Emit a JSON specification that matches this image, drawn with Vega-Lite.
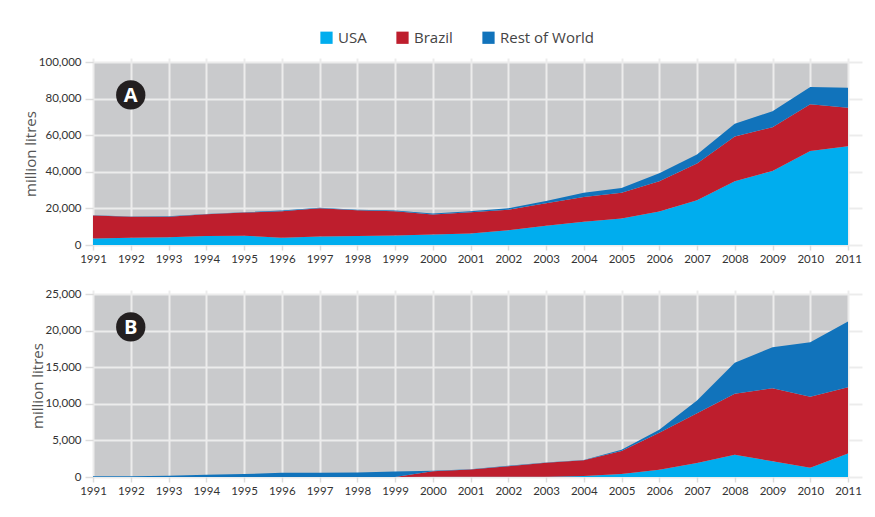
{
  "$schema": "https://vega.github.io/schema/vega-lite/v6.json",
  "padding": {"left": 23, "top": 30, "right": 5, "bottom": 5},
  "datasets": {
    "a": [
      {"year": 1991, "USA": 3600, "Brazil": 12500, "Rest of World": 200},
      {"year": 1992, "USA": 4000, "Brazil": 11400, "Rest of World": 200},
      {"year": 1993, "USA": 4300, "Brazil": 11200, "Rest of World": 200},
      {"year": 1994, "USA": 4900, "Brazil": 11900, "Rest of World": 200},
      {"year": 1995, "USA": 5100, "Brazil": 12600, "Rest of World": 200},
      {"year": 1996, "USA": 4000, "Brazil": 14400, "Rest of World": 400},
      {"year": 1997, "USA": 4700, "Brazil": 15400, "Rest of World": 200},
      {"year": 1998, "USA": 4900, "Brazil": 14100, "Rest of World": 300},
      {"year": 1999, "USA": 5200, "Brazil": 13200, "Rest of World": 400},
      {"year": 2000, "USA": 5800, "Brazil": 10800, "Rest of World": 600},
      {"year": 2001, "USA": 6300, "Brazil": 11600, "Rest of World": 500},
      {"year": 2002, "USA": 8000, "Brazil": 11300, "Rest of World": 800},
      {"year": 2003, "USA": 10500, "Brazil": 12300, "Rest of World": 1300},
      {"year": 2004, "USA": 12700, "Brazil": 13500, "Rest of World": 2400},
      {"year": 2005, "USA": 14500, "Brazil": 14100, "Rest of World": 2500},
      {"year": 2006, "USA": 18300, "Brazil": 16600, "Rest of World": 4300},
      {"year": 2007, "USA": 24400, "Brazil": 20100, "Rest of World": 4900},
      {"year": 2008, "USA": 34900, "Brazil": 24400, "Rest of World": 6900},
      {"year": 2009, "USA": 40500, "Brazil": 23900, "Rest of World": 8700},
      {"year": 2010, "USA": 51400, "Brazil": 25500, "Rest of World": 9400},
      {"year": 2011, "USA": 53900, "Brazil": 21100, "Rest of World": 10900}
    ],
    "b": [
      {"year": 1991, "USA": 0, "Brazil": 0, "Rest of World": 90},
      {"year": 1992, "USA": 0, "Brazil": 0, "Rest of World": 90},
      {"year": 1993, "USA": 0, "Brazil": 0, "Rest of World": 180},
      {"year": 1994, "USA": 0, "Brazil": 0, "Rest of World": 310},
      {"year": 1995, "USA": 0, "Brazil": 0, "Rest of World": 400},
      {"year": 1996, "USA": 0, "Brazil": 0, "Rest of World": 580},
      {"year": 1997, "USA": 0, "Brazil": 0, "Rest of World": 580},
      {"year": 1998, "USA": 0, "Brazil": 0, "Rest of World": 630},
      {"year": 1999, "USA": 0, "Brazil": 0, "Rest of World": 760},
      {"year": 2000, "USA": 20, "Brazil": 780, "Rest of World": 50},
      {"year": 2001, "USA": 20, "Brazil": 1010, "Rest of World": 20},
      {"year": 2002, "USA": 30, "Brazil": 1450, "Rest of World": 50},
      {"year": 2003, "USA": 50, "Brazil": 1880, "Rest of World": 40},
      {"year": 2004, "USA": 120, "Brazil": 2170, "Rest of World": 40},
      {"year": 2005, "USA": 400, "Brazil": 3150, "Rest of World": 180},
      {"year": 2006, "USA": 1000, "Brazil": 5060, "Rest of World": 400},
      {"year": 2007, "USA": 1900, "Brazil": 6810, "Rest of World": 1750},
      {"year": 2008, "USA": 3050, "Brazil": 8310, "Rest of World": 4260},
      {"year": 2009, "USA": 2150, "Brazil": 9970, "Rest of World": 5610},
      {"year": 2010, "USA": 1250, "Brazil": 9700, "Rest of World": 7450},
      {"year": 2011, "USA": 3200, "Brazil": 9050, "Rest of World": 8980}
    ]
  },
  "spacing": 23,
  "resolve": {"scale": {"color": "shared"}, "legend": {"color": "shared"}},
  "vconcat": [
    {
      "width": 755,
      "height": 183,
      "resolve": {"axis": {"x": "independent", "y": "independent"}},
      "layer": [
        {
          "data": {"name": "a"},
          "transform": [
            {"fold": ["USA", "Brazil", "Rest of World"], "as": ["region", "value"]},
            {"calculate": "indexof(['USA','Brazil','Rest of World'], datum.region)", "as": "stackorder"}
          ],
          "mark": {"type": "area", "interpolate": "linear"},
          "encoding": {
            "x": {"field": "year", "type": "quantitative", "scale": {"domain": [1991, 2011], "nice": false, "zero": false},
                  "axis": {"values": [1991,1992,1993,1994,1995,1996,1997,1998,1999,2000,2001,2002,2003,2004,2005,2006,2007,2008,2009,2010,2011], "format": "d", "title": null}},
            "y": {"field": "value", "type": "quantitative", "stack": "zero", "scale": {"domain": [0, 100000], "nice": false},
                  "axis": {"values": [0, 20000, 40000, 60000, 80000, 100000], "format": ",.0f", "title": "million litres"}},
            "order": {"field": "stackorder", "type": "quantitative", "sort": "ascending"},
            "color": {"field": "region", "type": "nominal", "sort": ["USA", "Brazil", "Rest of World"],
                      "scale": {"domain": ["USA", "Brazil", "Rest of World"], "range": ["#00adee", "#be1e2d", "#1173bb"]},
                      "legend": {"title": null, "orient": "none", "direction": "horizontal", "legendX": 226, "legendY": -32}}
          }
        },
        {
          "data": {"values": [{}]},
          "mark": {"type": "point", "filled": true, "shape": "circle", "size": 860, "color": "#231f20", "opacity": 1},
          "encoding": {
            "x": {"datum": 1992, "type": "quantitative", "axis": {"orient": "top", "values": [1991,1992,1993,1994,1995,1996,1997,1998,1999,2000,2001,2002,2003,2004,2005,2006,2007,2008,2009,2010,2011], "labels": false, "grid": false, "tickColor": "#ececec", "tickWidth": 2, "tickSize": 4, "title": null}},
            "y": {"datum": 82000, "type": "quantitative", "axis": {"orient": "right", "values": [0, 20000, 40000, 60000, 80000, 100000], "labels": false, "grid": false, "tickColor": "#ececec", "tickWidth": 2, "tickSize": 14, "title": null}}
          }
        },
        {
          "data": {"values": [{}]},
          "mark": {"type": "text", "text": "A", "color": "white", "fontSize": 20, "fontWeight": "bold", "font": "Open Sans", "baseline": "middle", "align": "center", "dy": 1},
          "encoding": {"x": {"datum": 1992, "type": "quantitative", "axis": null}, "y": {"datum": 82000, "type": "quantitative", "axis": null}}
        }
      ]
    },
    {
      "width": 755,
      "height": 183,
      "resolve": {"axis": {"x": "independent", "y": "independent"}},
      "layer": [
        {
          "data": {"name": "b"},
          "transform": [
            {"fold": ["USA", "Brazil", "Rest of World"], "as": ["region", "value"]},
            {"calculate": "indexof(['USA','Brazil','Rest of World'], datum.region)", "as": "stackorder"}
          ],
          "mark": {"type": "area", "interpolate": "linear"},
          "encoding": {
            "x": {"field": "year", "type": "quantitative", "scale": {"domain": [1991, 2011], "nice": false, "zero": false},
                  "axis": {"values": [1991,1992,1993,1994,1995,1996,1997,1998,1999,2000,2001,2002,2003,2004,2005,2006,2007,2008,2009,2010,2011], "format": "d", "title": null}},
            "y": {"field": "value", "type": "quantitative", "stack": "zero", "scale": {"domain": [0, 25000], "nice": false},
                  "axis": {"values": [0, 5000, 10000, 15000, 20000, 25000], "format": ",.0f", "title": "million litres"}},
            "order": {"field": "stackorder", "type": "quantitative", "sort": "ascending"},
            "color": {"field": "region", "type": "nominal", "sort": ["USA", "Brazil", "Rest of World"],
                      "scale": {"domain": ["USA", "Brazil", "Rest of World"], "range": ["#00adee", "#be1e2d", "#1173bb"]}}
          }
        },
        {
          "data": {"values": [{}]},
          "mark": {"type": "point", "filled": true, "shape": "circle", "size": 860, "color": "#231f20", "opacity": 1},
          "encoding": {
            "x": {"datum": 1992, "type": "quantitative", "axis": {"orient": "top", "values": [1991,1992,1993,1994,1995,1996,1997,1998,1999,2000,2001,2002,2003,2004,2005,2006,2007,2008,2009,2010,2011], "labels": false, "grid": false, "tickColor": "#ececec", "tickWidth": 2, "tickSize": 4, "title": null}},
            "y": {"datum": 20500, "type": "quantitative", "axis": {"orient": "right", "values": [0, 5000, 10000, 15000, 20000, 25000], "labels": false, "grid": false, "tickColor": "#ececec", "tickWidth": 2, "tickSize": 14, "title": null}}
          }
        },
        {
          "data": {"values": [{}]},
          "mark": {"type": "text", "text": "B", "color": "white", "fontSize": 20, "fontWeight": "bold", "font": "Open Sans", "baseline": "middle", "align": "center", "dy": 1},
          "encoding": {"x": {"datum": 1992, "type": "quantitative", "axis": null}, "y": {"datum": 20500, "type": "quantitative", "axis": null}}
        }
      ]
    }
  ],
  "config": {
    "view": {"fill": "#c9cacc", "stroke": null},
    "axis": {
      "gridColor": "#ececec", "gridWidth": 2, "gridOpacity": 1,
      "domain": false, "labelOverlap": false, "labelFlush": false, "labelBound": false,
      "tickColor": "#dcdcdc", "tickSize": 8, "tickWidth": 1.5,
      "labelFont": "Lato", "labelFontSize": 11.5, "labelColor": "#333333",
      "titleFont": "Open Sans", "titleFontSize": 15, "titleFontWeight": "normal", "titleColor": "#555555"
    },
    "axisX": {"tickSize": 5, "labelPadding": 3},
    "axisY": {"labelPadding": 4, "titlePadding": 0},
    "legend": {
      "symbolType": "square", "symbolSize": 150, "symbolStrokeWidth": 0, "symbolOpacity": 1,
      "labelFont": "Open Sans", "labelFontSize": 15, "labelColor": "#444444",
      "columnPadding": 28, "labelOffset": 4
    }
  }
}
